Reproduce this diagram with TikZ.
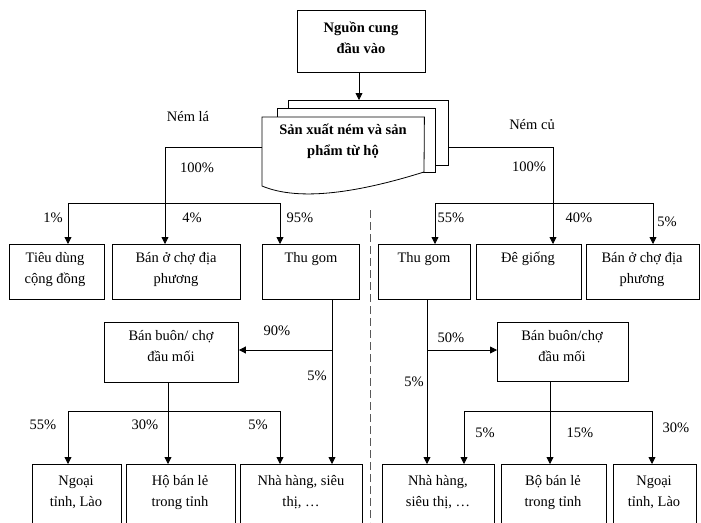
\documentclass[tikz,border=0pt]{standalone}
\usepackage{fontspec}
\setmainfont{Liberation Serif}
\usetikzlibrary{arrows.meta,calc}
\newcommand\mlines[1]{\begin{tabular}[t]{@{}c@{}}#1\end{tabular}}
\begin{document}
\begin{tikzpicture}[x=1pt,y=-1pt,
 box/.style={draw, line width=0.9pt, fill=white, inner sep=0, anchor=north west},
 tx/.style={anchor=base, inner sep=0, font=\fontsize{14.5}{21}\selectfont},
 btx/.style={anchor=base, inner sep=0, font=\fontsize{14.5}{21}\selectfont\bfseries},
 pct/.style={inner sep=0, font=\fontsize{14.5}{17}\selectfont},
 ln/.style={line width=0.8pt},
 arr/.style={ln, -{Triangle[length=7pt,width=7pt]}},
 sepline/.style={dash pattern=on 8pt off 4pt, line width=0.9pt, gray!70!black}]
\useasboundingbox (0,0) rectangle (701,522);
\fill[white] (0,0) rectangle (701,522);
\clip (0,0) rectangle (701,522);

% source
\node[box, minimum width=128pt, minimum height=62pt] (src) at (297,10) {};
\node[btx] (srcT) at (361,32) {\mlines{Nguồn cung\\đầu vào}};

% document stack
\node[box, minimum width=160pt, minimum height=65pt] (back) at (288,100) {};
\node[box, minimum width=158pt, minimum height=64pt] (mid) at (277,108) {};
\node[inner sep=0, minimum width=162pt, minimum height=75pt, anchor=north west] (front) at (262,117) {};
\draw[ln, fill=white] (front.north west) -- (front.north east) -- (424,172)
  .. controls (360,192) and (300,202) .. (262,186) -- cycle;
\node[btx] (prod) at (343,134) {\mlines{Sản xuất ném và sản\\phẩm từ hộ}};
\draw[arr] (src.south -| 359,0) -- (back.north -| 359,0);

\node[pct] (nla) at (188,117) {Ném lá};
\node[pct] (ncu) at (532,125) {Ném củ};

% row 1 boxes
\node[box, minimum width=95pt, minimum height=55pt] (A1) at (9,244) {};
\node[box, minimum width=128pt, minimum height=55pt] (A2) at (112,244) {};
\node[box, minimum width=97pt, minimum height=55pt] (A3) at (262,244) {};
\node[box, minimum width=92pt, minimum height=55pt] (B1) at (378,244) {};
\node[box, minimum width=105pt, minimum height=55pt] (B2) at (476,244) {};
\node[box, minimum width=113pt, minimum height=55pt] (B3) at (586,244) {};
\node[tx] (tA1) at (55,262) {\mlines{Tiêu dùng\\cộng đồng}};
\node[tx] (tA2) at (176,262) {\mlines{Bán ở chợ địa\\phương}};
\node[tx] (tA3) at (311,262) {Thu gom};
\node[tx] (tB1) at (424,262) {Thu gom};
\node[tx] (tB2) at (528,262) {Đê giống};
\node[tx] (tB3) at (642,262) {\mlines{Bán ở chợ địa\\phương}};

% left upper connectors
\coordinate (jl) at (165,147);
\draw[arr] (front.west |- jl) -- (jl) -- (A2.north -| jl);
\coordinate (bl1) at (68,203);
\coordinate (bl2) at (280,203);
\draw[ln] (bl1) -- (bl2);
\draw[arr] (bl1) -- (A1.north -| bl1);
\draw[arr] (bl2) -- (A3.north -| bl2);
% right upper connectors
\coordinate (jr) at (553,147);
\draw[arr] (back.east |- jr) -- (jr) -- (B2.north -| jr);
\coordinate (br1) at (435,203);
\coordinate (br2) at (653,203);
\draw[ln] (br1) -- (br2);
\draw[arr] (br1) -- (B1.north -| br1);
\draw[arr] (br2) -- (B3.north -| br2);

% wholesale boxes
\node[box, minimum width=134pt, minimum height=60pt] (D1) at (104,322) {};
\node[box, minimum width=131pt, minimum height=59pt] (D2) at (497,322) {};
\node[tx] (tD1) at (171,340) {\mlines{Bán buôn/ chợ\\đầu mối}};
\node[tx] (tD2) at (562,340) {\mlines{Bán buôn/chợ\\đầu mối}};

% bottom boxes
\node[box, minimum width=89pt, minimum height=70pt] (C1) at (32,464) {};
\node[box, minimum width=109pt, minimum height=70pt] (C2) at (126,464) {};
\node[box, minimum width=122pt, minimum height=70pt] (C3) at (240,464) {};
\node[box, minimum width=112pt, minimum height=70pt] (E1) at (382,464) {};
\node[box, minimum width=105pt, minimum height=70pt] (E2) at (501,464) {};
\node[box, minimum width=83pt, minimum height=70pt] (E3) at (613,464) {};
\node[tx] (tC1) at (76,485) {\mlines{Ngoại\\tỉnh, Lào}};
\node[tx] (tC2) at (180,485) {\mlines{Hộ bán lẻ\\trong tỉnh}};
\node[tx] (tC3) at (301,485) {\mlines{Nhà hàng, siêu\\thị, …}};
\node[tx] (tE1) at (438,485) {\mlines{Nhà hàng,\\siêu thị, …}};
\node[tx] (tE2) at (553,485) {\mlines{Bộ bán lẻ\\trong tỉnh}};
\node[tx] (tE3) at (654,485) {\mlines{Ngoại\\tỉnh, Lào}};

% left lower connectors
\coordinate (tl) at (332,350);
\draw[arr] (A3.south -| tl) -- (C3.north -| tl);
\draw[arr] (tl) -- (D1.east |- tl);
\coordinate (dl) at (168,411);
\coordinate (dl1) at (68,411);
\coordinate (dl2) at (280,411);
\draw[ln] (D1.south -| dl) -- (dl);
\draw[ln] (dl1) -- (dl2);
\draw[arr] (dl1) -- (C1.north -| dl1);
\draw[arr] (dl) -- (C2.north -| dl);
\draw[arr] (dl2) -- (C3.north -| dl2);

% right lower connectors
\coordinate (tr) at (427,350);
\draw[arr] (B1.south -| tr) -- (E1.north -| tr);
\draw[arr] (tr) -- (D2.west |- tr);
\coordinate (dr) at (550,411);
\coordinate (dr1) at (464,411);
\coordinate (dr2) at (652,411);
\draw[ln] (D2.south -| dr) -- (dr);
\draw[ln] (dr1) -- (dr2);
\draw[arr] (dr1) -- (E1.north -| dr1);
\draw[arr] (dr) -- (E2.north -| dr);
\draw[arr] (dr2) -- (E3.north -| dr2);

% separator
\coordinate (s1) at (370,210);
\coordinate (s2) at (370,522);
\draw[sepline] (s1) -- (s2);

% percentages
\node[pct] (p1) at (197,168) {100\%};
\node[pct] (p2) at (53,218) {1\%};
\node[pct] (p3) at (192,218) {4\%};
\node[pct] (p4) at (300,218) {95\%};
\node[pct] (p5) at (529,167) {100\%};
\node[pct] (p6) at (451,218) {55\%};
\node[pct] (p7) at (579,218) {40\%};
\node[pct] (p8) at (667,222) {5\%};
\node[pct] (p9) at (277,331) {90\%};
\node[pct] (p10) at (317,376) {5\%};
\node[pct] (p11) at (43,425) {55\%};
\node[pct] (p12) at (145,425) {30\%};
\node[pct] (p13) at (258,425) {5\%};
\node[pct] (p14) at (451,338) {50\%};
\node[pct] (p15) at (414,382) {5\%};
\node[pct] (p16) at (485,433) {5\%};
\node[pct] (p17) at (580,433) {15\%};
\node[pct] (p18) at (676,428) {30\%};
\end{tikzpicture}
\end{document}
